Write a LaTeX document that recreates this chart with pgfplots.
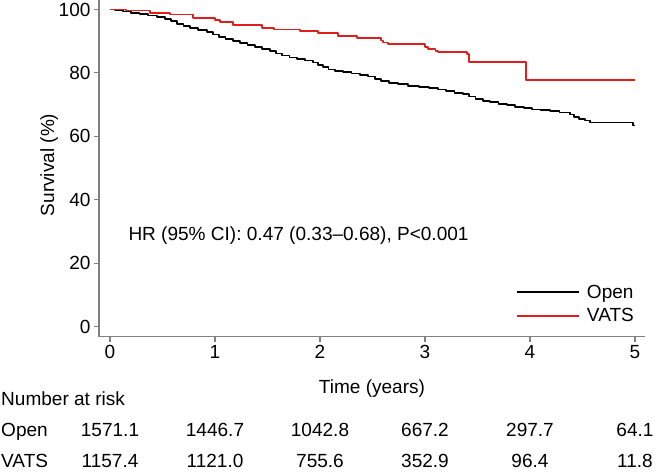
\documentclass[border=0pt]{standalone}
\usepackage{fontspec}
\setmainfont{Liberation Sans}
\usepackage{pgfplots}
\pgfplotsset{compat=1.18}
\definecolor{kmred}{RGB}{225,30,30}
\definecolor{axgray}{RGB}{128,128,128}
\begin{document}
\begin{tikzpicture}[font=\fontsize{19.1}{23}\selectfont]
\path[use as bounding box] (-99bp,-138.3bp) rectangle (557bp,336.7bp);
\begin{axis}[
  scale only axis, width=546bp, height=336.7bp,
  at={(0,0)}, anchor=south west,
  xmin=-0.105, xmax=5.095, ymin=-3.16, ymax=103,
  axis x line*=bottom, axis y line*=left,
  axis line style={axgray, line width=1.4bp},
  xtick={0,1,2,3,4,5}, ytick={0,20,40,60,80,100},
  tick align=outside, major tick length=5bp,
  tick style={axgray, line width=1.1bp},
  /pgf/number format/assume math mode=true,
  xlabel={Time (years)}, ylabel={Survival (\%)},
  xlabel style={at={(axis description cs:0.5,-0.170)}, anchor=base},
  ylabel style={at={(axis description cs:-0.091,0.51)}, anchor=center},
  legend style={at={(axis description cs:0.7637,0.1601)}, anchor=north west,
    draw=none, fill=none, inner sep=0pt, row sep=4.6bp, column sep=7bp,
    nodes={inner xsep=0bp, inner ysep=2bp}},
  legend cell align=left,
  legend image code/.code={\draw[#1] (0bp,0bp) -- (62bp,0bp);},
]
\addplot[const plot, black, line width=1.8bp, line join=round] coordinates {
(0,100) (0.05,99.8) (0.12,99.4) (0.2,99.0) (0.28,98.6) (0.36,98.1) (0.45,97.6)
(0.52,97.0) (0.58,96.3) (0.64,95.5) (0.70,94.8) (0.76,94.1) (0.84,93.5) (0.92,92.8)
(0.98,92.1) (1.04,91.4) (1.10,90.7) (1.17,90.0) (1.24,89.4) (1.31,88.8) (1.38,88.2)
(1.45,87.6) (1.52,86.8) (1.58,86.1) (1.64,85.5) (1.71,84.9) (1.78,84.4) (1.86,83.9)
(1.93,83.3) (1.98,82.6) (2.03,81.8) (2.08,81.1) (2.14,80.6) (2.22,80.2) (2.30,79.8)
(2.38,79.4) (2.46,78.9) (2.52,78.2) (2.58,77.5) (2.66,76.8) (2.74,76.4) (2.84,76.0)
(2.94,75.6) (3.04,75.3) (3.12,74.8) (3.20,74.3) (3.28,73.8) (3.36,73.3) (3.42,72.6)
(3.48,71.9) (3.55,71.2) (3.62,70.8) (3.70,70.3) (3.78,69.8) (3.86,69.3) (3.94,68.9)
(4.02,68.5) (4.10,68.2) (4.19,67.9) (4.28,67.5) (4.38,66.9) (4.42,66.0) (4.47,65.5)
(4.52,65.0) (4.57,64.4) (4.98,63.4) (5.0,63.4)
};
\addlegendentry{Open}
\addplot[const plot, kmred, line width=1.8bp, line join=round] coordinates {
(0,100) (0.15,99.7) (0.38,98.9) (0.57,98.4) (0.79,97.4) (1.0,96.6) (1.05,96.0)
(1.17,95.0) (1.45,94.2) (1.56,93.7) (1.81,93.1) (1.98,92.5) (2.17,91.7) (2.35,91.0)
(2.58,90.2) (2.60,89.6) (2.65,89.0) (3.0,88.2) (3.03,87.6) (3.10,87.0) (3.12,86.5)
(3.40,85.9) (3.42,83.4) (3.96,77.8) (5.0,77.8)
};
\addlegendentry{VATS}
\end{axis}
\node[anchor=base west, inner sep=0pt] at (29.3bp,96bp) {HR (95\% CI): 0.47 (0.33--0.68), P<0.001};
\node[anchor=base west, inner sep=0pt] at (-98bp,-68.3bp) {Number at risk};
\node[anchor=base west, inner sep=0pt] at (-98bp,-100bp) {Open};
\node[anchor=base west, inner sep=0pt] at (-98bp,-130.6bp) {VATS};
\foreach \v [count=\i from 0] in {1571.1,1446.7,1042.8,667.2,297.7,64.1}
  \node[anchor=base, inner sep=0pt] at (11bp+105bp*\i,-100bp) {\v};
\foreach \v [count=\i from 0] in {1157.4,1121.0,755.6,352.9,96.4,11.8}
  \node[anchor=base, inner sep=0pt] at (11bp+105bp*\i,-130.6bp) {\v};
\end{tikzpicture}
\end{document}
